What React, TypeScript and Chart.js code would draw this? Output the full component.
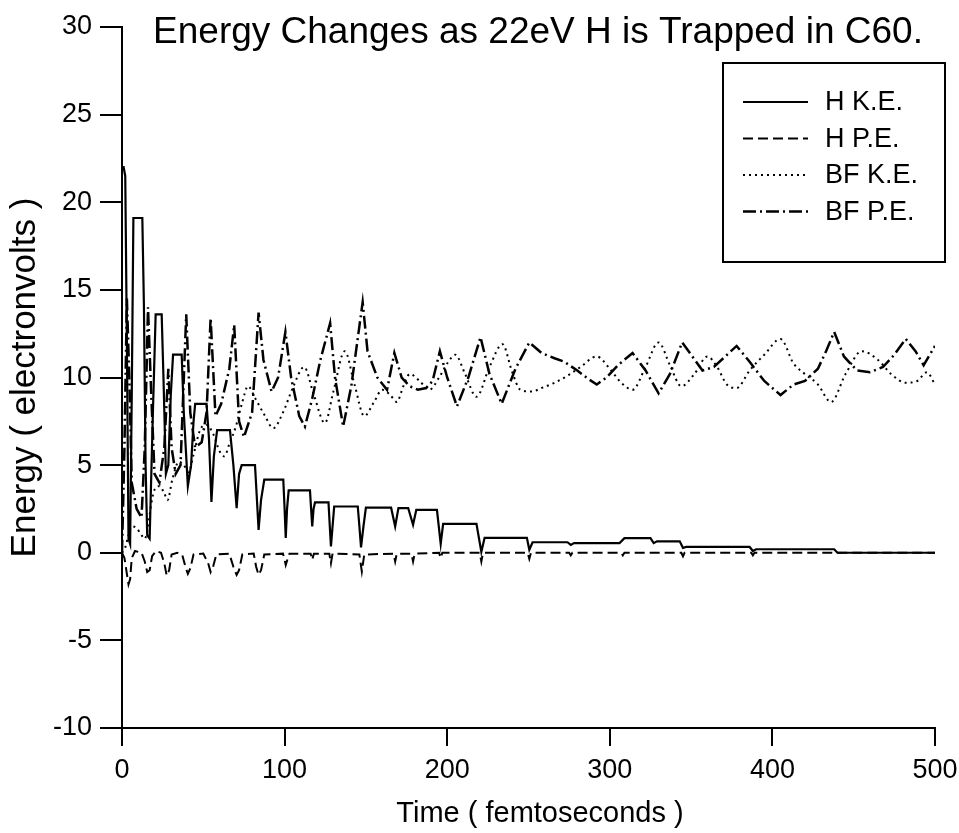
import React, { useEffect, useRef } from 'react';
import { Chart, registerables } from 'chart.js';

Chart.register(...registerables);

const TITLE = 'Energy Changes as 22eV H is Trapped in C60.';
const X_TITLE = 'Time ( femtoseconds )';
const Y_TITLE = 'Energy ( electronvolts )';
const SERIES_LABELS = ['H K.E.', 'H P.E.', 'BF K.E.', 'BF P.E.'];
const X_RANGE = [0, 500];
const Y_RANGE = [-10, 30];
const X_STEP = 100;
const Y_STEP = 5;

// [time (fs), energy (eV)]
const hKE: [number, number][] = [
  [0, 22], [1, 22], [2, 21.5], [3, 12], [4, 0.8], [5, 0.5], [6, 9], [7, 19.1], [12.5, 19.1],
  [13.5, 14], [14.5, 5], [15.5, 1.0], [17, 0.8], [19, 8], [20.7, 13.6], [24.4, 13.6], [25.5, 10],
  [27, 4.5], [28.5, 5], [30, 9], [31.4, 11.3], [36.7, 11.3], [38, 8], [40.5, 3.8], [42.5, 5],
  [44, 7.5], [45, 8.5], [52, 8.5], [53.5, 6.5], [55, 2.9], [56.5, 5.5], [58.5, 7.0], [66.4, 7.0],
  [68.5, 5], [70.5, 2.55], [72, 4.5], [73.6, 5.0], [81.8, 5.0], [83, 3], [84, 1.3], [85.5, 3],
  [87.5, 4.17], [99.2, 4.17], [100, 2.5], [100.7, 0.85], [101.5, 2.5], [102.5, 3.56], [115.6, 3.56],
  [116.3, 2.5], [117, 1.5], [117.8, 2.5], [118.7, 2.87], [127, 2.87], [127.8, 1.5], [128.5, 0.36],
  [129.5, 1.5], [130.5, 2.64], [145, 2.64], [146, 1.5], [147, 0.3], [148.5, 1.5], [150, 2.57],
  [165.5, 2.57], [168, 1.5], [170, 2.55], [176, 2.55], [179, 1.6], [181, 2.45], [193.7, 2.45],
  [196, 0.5], [197.5, 1.65], [218, 1.65], [221, 0.05], [223, 0.85], [249, 0.85], [250.5, 0.17],
  [252.5, 0.6], [274, 0.6], [276, 0.45], [278, 0.55], [306, 0.55], [309, 0.83], [325, 0.83],
  [327, 0.55], [329, 0.65], [343, 0.65], [345, 0.28], [347, 0.33], [386, 0.33], [388, 0.1],
  [390, 0.2], [438, 0.2], [440, 0], [500, 0],
];

const hPE: [number, number][] = [
  [0, 0], [1.5, -0.3], [3, -1.2], [4, -1.8], [5, -1.5], [6, -0.3], [8, 0.1], [12, 0.0], [14, -0.5],
  [15.5, -1.1], [17, -1.0], [18.5, -0.2], [21, 0.1], [24, 0.0], [26, -0.6], [27.5, -1.3], [29, -1.0],
  [30.5, -0.1], [34, 0.0], [37, -0.1], [39, -0.8], [40.5, -1.2], [42, -0.9], [44, -0.1], [50, -0.05],
  [53, -0.6], [54.5, -1.1], [56, -0.8], [58, -0.1], [66, -0.05], [68.5, -0.8], [70.5, -1.26],
  [72, -1.0], [74, -0.1], [81, -0.05], [82.5, -0.8], [84, -1.26], [85.5, -1.0], [87.5, -0.1],
  [99, -0.05], [100, -0.4], [100.7, -0.7], [101.7, -0.4], [103, -0.05], [116, -0.05], [117, -0.4],
  [118, -0.05], [127.5, -0.05], [128.5, -0.6], [129.5, -0.05], [146, -0.1], [147.5, -1.07],
  [149, -0.1], [167, -0.05], [168, -0.5], [169, -0.05], [178, -0.05], [179, -0.5], [180, -0.05],
  [195, 0], [196, -0.3], [197, 0], [220, 0], [221, -0.5], [222, 0], [249.5, 0], [250.5, -0.35],
  [251.5, 0], [275, 0], [276, -0.15], [277, 0], [307, 0], [308, -0.15], [309, 0], [344, 0],
  [345, -0.2], [346, 0], [387, 0], [388, -0.15], [389, 0], [500, 0],
];

const bfKE: [number, number][] = [
  [0, 0], [2, 0.3], [4, 1.0], [6, 1.5], [9, 1.4], [12, 1.0], [14, 0.8], [16, 1.5], [18, 2.8],
  [20, 3.6], [23, 3.8], [26, 3.4], [28, 3.0], [31, 4.2], [35, 5.2], [38, 5.0], [41, 4.6], [44, 5.6],
  [48, 7.0], [52, 7.3], [56, 6.8], [60, 5.8], [63, 5.5], [66, 6.2], [70, 7.2], [74, 8.6], [77.5, 9.5],
  [82, 8.8], [88, 7.8], [93, 7.1], [99, 8.0], [105, 9.4], [112, 10.6], [118, 9.0], [124.8, 7.4],
  [130, 9.2], [137, 11.5], [143, 9.6], [149, 7.8], [155, 8.6], [160, 9.3], [165, 9.0], [169, 8.6],
  [173, 9.5], [177, 10.2], [183, 9.8], [189, 9.3], [195, 10.0], [200, 10.8], [205, 11.3], [211, 10.2],
  [218, 8.9], [226, 10.6], [234, 11.9], [240, 10.3], [245, 9.3], [252, 9.2], [258, 9.4], [266, 9.7],
  [274, 10.1], [282, 10.6], [292, 11.2], [300, 10.5], [307, 9.7], [314, 9.3], [322, 10.6], [330, 12.0],
  [337, 10.7], [344, 9.5], [352, 10.2], [360, 11.2], [366, 10.6], [372, 9.6], [378, 9.4], [386, 10.4],
  [395, 11.3], [405, 12.2], [413, 10.8], [420, 10.2], [428, 9.6], [436, 8.6], [445, 10.2], [455, 11.5],
  [465, 11.0], [473, 10.2], [482, 9.7], [489, 9.8], [495, 10.3], [500, 9.6],
];

const bfPE: [number, number][] = [
  [0, 0], [1.5, 6], [3, 14.5], [4.5, 10], [6, 4], [9, 2.5], [12, 2.0], [14, 6], [16, 14.0], [18, 9],
  [20, 4.5], [23, 4.0], [26, 6], [28.5, 10.5], [30.5, 6], [33, 4.5], [36, 5], [39.5, 13.6], [42, 8],
  [45, 6], [49, 6.3], [52, 8], [54.5, 13.4], [57.5, 7.8], [61, 8.5], [66, 10.5], [69, 13.0], [72, 7.5],
  [75, 6.6], [80, 8.0], [84, 13.7], [87, 11], [92, 9.2], [96, 10], [100.5, 12.6], [104, 10], [109, 7.8],
  [112.5, 7.2], [117, 8.8], [122, 11], [128, 13.1], [131, 10], [136, 7.2], [141, 9.5], [148, 14.3],
  [151, 11.5], [157, 10], [163, 9.3], [167.5, 11.4], [172, 10.0], [177, 9.5], [182, 9.3], [187, 9.4],
  [191, 9.8], [195.5, 11.5], [200, 10.0], [206, 8.35], [213, 10.0], [220.5, 12.3], [226, 10.2],
  [233.5, 8.5], [242, 10.5], [250.5, 12.0], [258, 11.4], [266, 11.1], [272, 10.9], [280, 10.4],
  [287, 9.9], [292, 9.6], [298, 10.0], [305, 10.7], [314, 11.4], [322, 10.4], [330, 9.1], [337, 10.2],
  [344.5, 12.0], [350, 11.3], [357, 10.4], [364, 10.6], [371, 11.2], [378, 11.8], [386, 10.9],
  [395, 9.8], [405, 9.0], [413, 9.6], [420, 9.8], [428, 10.5], [433, 11.5], [438, 12.6], [444, 11.2],
  [452, 10.4], [460, 10.3], [468, 10.6], [475, 11.3], [482, 12.2], [488, 11.5], [493, 10.7], [500, 11.8],
];

const FONT = '"Liberation Sans", Arial, Helvetica, sans-serif';

const toXY = (arr: [number, number][]) => arr.map(([x, y]) => ({ x, y }));

const overlayPlugin = {
  id: 'overlay',
  afterDraw(chart: any) {
    const ctx = chart.ctx as CanvasRenderingContext2D;
    ctx.save();
    // title
    ctx.fillStyle = '#000';
    ctx.font = `37px ${FONT}`;
    ctx.textAlign = 'center';
    ctx.textBaseline = 'alphabetic';
    ctx.fillText(TITLE, 538, 43);
    // x-axis title
    ctx.font = `29px ${FONT}`;
    ctx.textBaseline = 'middle';
    ctx.fillText(X_TITLE, 540, 814);
    // legend box
    const bx = 723, by = 63, bw = 222, bh = 199;
    ctx.fillStyle = '#fff';
    ctx.fillRect(bx, by, bw, bh);
    ctx.strokeStyle = '#000';
    ctx.lineWidth = 2;
    ctx.setLineDash([]);
    ctx.strokeRect(bx, by, bw, bh);
    chart.data.datasets.forEach((ds: any, i: number) => {
      const y = 102 + i * 36.5;
      ctx.beginPath();
      ctx.setLineDash(ds.borderDash || []);
      ctx.lineWidth = ds.borderWidth;
      ctx.strokeStyle = ds.borderColor;
      ctx.moveTo(743, y);
      ctx.lineTo(808, y);
      ctx.stroke();
      ctx.setLineDash([]);
      ctx.fillStyle = '#000';
      ctx.font = `27px ${FONT}`;
      ctx.textAlign = 'left';
      ctx.textBaseline = 'middle';
      ctx.fillText(ds.label, 825, y + 1);
    });
    ctx.restore();
  },
};

export default function App() {
  const ref = useRef<HTMLCanvasElement | null>(null);

  useEffect(() => {
    if (!ref.current) return;
    const chart = new Chart(ref.current, {
      type: 'line',
      data: {
        datasets: [
          {
            label: SERIES_LABELS[0],
            data: toXY(hKE),
            borderColor: '#000',
            borderWidth: 2.2,
            borderDash: [],
            pointRadius: 0,
            tension: 0,
          },
          {
            label: SERIES_LABELS[1],
            data: toXY(hPE),
            borderColor: '#000',
            borderWidth: 2,
            borderDash: [10, 5],
            pointRadius: 0,
            tension: 0,
          },
          {
            label: SERIES_LABELS[2],
            data: toXY(bfKE),
            borderColor: '#000',
            borderWidth: 2,
            borderDash: [2, 4],
            pointRadius: 0,
            cubicInterpolationMode: 'monotone',
          },
          {
            label: SERIES_LABELS[3],
            data: toXY(bfPE),
            borderColor: '#000',
            borderWidth: 2.5,
            borderDash: [13, 4, 2, 4],
            pointRadius: 0,
            tension: 0,
          },
        ],
      },
      options: {
        animation: false,
        responsive: false,
        devicePixelRatio: 1,
        layout: { padding: { top: 27, right: 24, left: 0, bottom: 0 } },
        plugins: {
          legend: { display: false },
          tooltip: { enabled: false },
          title: { display: false },
        },
        scales: {
          x: {
            type: 'linear',
            min: X_RANGE[0],
            max: X_RANGE[1],
            ticks: {
              stepSize: X_STEP,
              color: '#000',
              font: { family: FONT, size: 27 },
              padding: 8,
              maxRotation: 0,
            },
            border: { display: true, color: '#000', width: 2 },
            grid: {
              display: true,
              drawOnChartArea: false,
              drawTicks: true,
              tickLength: 18,
              color: '#000',
              lineWidth: 2,
            },
            title: { display: false },
            afterFit: (s: any) => {
              s.height = 105;
              s.paddingRight = 0;
              s.paddingLeft = 0;
            },
          },
          y: {
            type: 'linear',
            min: Y_RANGE[0],
            max: Y_RANGE[1],
            ticks: {
              stepSize: Y_STEP,
              color: '#000',
              font: { family: FONT, size: 27 },
              padding: 8,
            },
            border: { display: true, color: '#000', width: 2 },
            grid: {
              display: true,
              drawOnChartArea: false,
              drawTicks: true,
              tickLength: 22,
              color: '#000',
              lineWidth: 2,
            },
            title: {
              display: true,
              text: Y_TITLE,
              color: '#000',
              font: { family: FONT, size: 35 },
              padding: { top: 4, bottom: 0 },
            },
            afterFit: (s: any) => {
              s.width = 122;
              s.paddingTop = 0;
              s.paddingBottom = 0;
            },
          },
        },
      },
      plugins: [overlayPlugin],
    } as any);
    return () => chart.destroy();
  }, []);

  return (
    <div style={{ position: 'fixed', left: 0, top: 0, width: 959, height: 833, background: '#fff' }}>
      <canvas ref={ref} width={959} height={833} style={{ display: 'block' }} />
    </div>
  );
}
